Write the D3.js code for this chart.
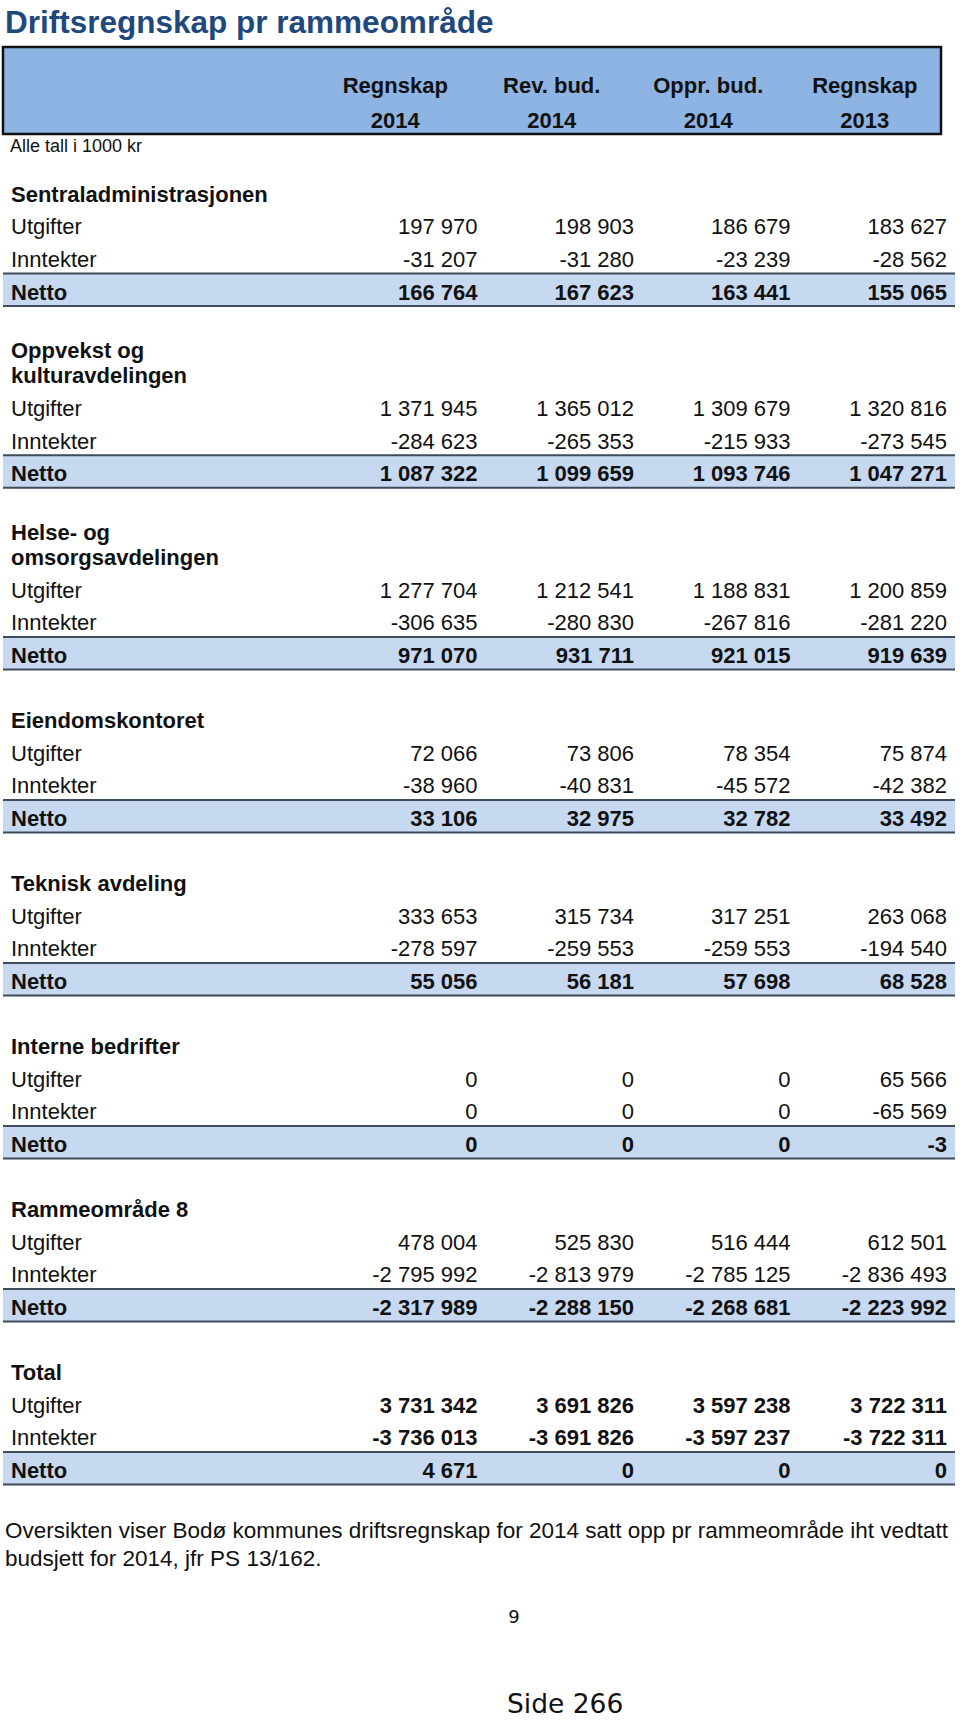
<!DOCTYPE html>
<html>
<head>
<meta charset="utf-8">
<script src="https://cdn.jsdelivr.net/npm/d3@7"></script>
<style>
  html, body { margin: 0; padding: 0; background: #ffffff; }
  svg { display: block; }
</style>
</head>
<body>
<div id="chart"></div>
<script>
// ---------- data ----------
const title = "Driftsregnskap pr rammeområde";
const unitNote = "Alle tall i 1000 kr";
const colHeadersTop = ["Regnskap", "Rev. bud.", "Oppr. bud.", "Regnskap"];
const colHeadersYear = ["2014", "2014", "2014", "2013"];
const rowLabels = ["Utgifter", "Inntekter", "Netto"];
const sectionNames = [
  ["Sentraladministrasjonen"],
  ["Oppvekst og", "kulturavdelingen"],
  ["Helse- og", "omsorgsavdelingen"],
  ["Eiendomskontoret"],
  ["Teknisk avdeling"],
  ["Interne bedrifter"],
  ["Rammeområde 8"],
  ["Total"]
];
const utgifter = [
  [197970, 198903, 186679, 183627],
  [1371945, 1365012, 1309679, 1320816],
  [1277704, 1212541, 1188831, 1200859],
  [72066, 73806, 78354, 75874],
  [333653, 315734, 317251, 263068],
  [0, 0, 0, 65566],
  [478004, 525830, 516444, 612501],
  [3731342, 3691826, 3597238, 3722311]
];
const inntekter = [
  [-31207, -31280, -23239, -28562],
  [-284623, -265353, -215933, -273545],
  [-306635, -280830, -267816, -281220],
  [-38960, -40831, -45572, -42382],
  [-278597, -259553, -259553, -194540],
  [0, 0, 0, -65569],
  [-2795992, -2813979, -2785125, -2836493],
  [-3736013, -3691826, -3597237, -3722311]
];
const netto = [
  [166764, 167623, 163441, 155065],
  [1087322, 1099659, 1093746, 1047271],
  [971070, 931711, 921015, 919639],
  [33106, 32975, 32782, 33492],
  [55056, 56181, 57698, 68528],
  [0, 0, 0, -3],
  [-2317989, -2288150, -2268681, -2223992],
  [4671, 0, 0, 0]
];
const footerLines = [
  "Oversikten viser Bodø kommunes driftsregnskap for 2014 satt opp pr rammeområde iht vedtatt",
  "budsjett for 2014, jfr PS 13/162."
];
const pageNumber = "9";
const sideLabel = "Side 266";

// ---------- layout ----------
const W = 960, H = 1720;
const FONT = "'Liberation Sans', Arial, sans-serif";
const ROW_H = 32.6, TWO_LINE_H = 51.3, FIRST_ROW_TOP = 175.7;

const locale = d3.formatLocale({decimal: ",", thousands: " ", grouping: [3], currency: ["", ""], minus: "-"});
const fmt = locale.format(",d");

const svg = d3.select("#chart").append("svg")
  .attr("width", W).attr("height", H)
  .attr("viewBox", `0 0 ${W} ${H}`);

const x = d3.scaleBand().domain(d3.range(colHeadersTop.length)).range([329, 955]).padding(0);

// title
svg.append("text")
  .attr("x", 5).attr("y", 33)
  .attr("font-family", FONT).attr("font-weight", "bold")
  .attr("font-size", 31.5).attr("fill", "#1F497D")
  .text(title);

// header box
svg.append("rect")
  .attr("x", 3).attr("y", 47).attr("width", 938).attr("height", 87)
  .attr("fill", "#8DB4E2").attr("stroke", "#111111").attr("stroke-width", 2.5);

const hdr = svg.append("g").attr("font-family", FONT).attr("font-weight", "bold")
  .attr("font-size", 22).attr("fill", "#111111").attr("text-anchor", "middle");
hdr.selectAll("text.top").data(colHeadersTop).join("text")
  .attr("class", "top")
  .attr("x", (d, i) => x(i) + x.bandwidth() / 2 - 12).attr("y", 93)
  .text(d => d);
hdr.selectAll("text.yr").data(colHeadersYear).join("text")
  .attr("class", "yr")
  .attr("x", (d, i) => x(i) + x.bandwidth() / 2 - 12).attr("y", 127.5)
  .text(d => d);

svg.append("text")
  .attr("x", 10).attr("y", 152)
  .attr("font-family", FONT).attr("font-size", 18).attr("fill", "#111111")
  .text(unitNote);

// build rows
const rows = [];
let yTop = FIRST_ROW_TOP;
sectionNames.forEach((lines, s) => {
  const hh = lines.length > 1 ? TWO_LINE_H : ROW_H;
  rows.push({type: "section", top: yTop, h: hh, lines});
  yTop += hh;
  const series = [utgifter[s], inntekter[s], netto[s]];
  const isTotal = s === sectionNames.length - 1;
  series.forEach((vals, r) => {
    rows.push({type: r === 2 ? "netto" : "row", top: yTop, h: ROW_H, label: rowLabels[r], vals, boldVals: r === 2 || isTotal});
    yTop += ROW_H;
  });
  yTop += ROW_H; // blank spacer row
});

const body = svg.append("g").attr("font-family", FONT).attr("fill", "#111111");

// Netto bands
const nettoRows = rows.filter(r => r.type === "netto");
body.selectAll("rect.band").data(nettoRows).join("rect")
  .attr("class", "band")
  .attr("x", 3).attr("y", d => d.top).attr("width", 952).attr("height", d => d.h)
  .attr("fill", "#C6D9F1");
body.selectAll("line.bt").data(nettoRows).join("line")
  .attr("class", "bt")
  .attr("x1", 3).attr("x2", 955).attr("y1", d => d.top).attr("y2", d => d.top)
  .attr("stroke", "#3E4B5B").attr("stroke-width", 2);
body.selectAll("line.bb").data(nettoRows).join("line")
  .attr("class", "bb")
  .attr("x1", 3).attr("x2", 955).attr("y1", d => d.top + d.h).attr("y2", d => d.top + d.h)
  .attr("stroke", "#3E4B5B").attr("stroke-width", 2);

// section headers
const secRows = rows.filter(r => r.type === "section");
secRows.forEach(r => {
  const n = r.lines.length;
  r.lines.forEach((ln, k) => {
    const base = n > 1 ? r.top + r.h - 7 - (n - 1 - k) * 25 : r.top + 26;
    body.append("text")
      .attr("x", 11).attr("y", base)
      .attr("font-size", 22).attr("font-weight", "bold")
      .text(ln);
  });
});

// data rows
const dataRows = rows.filter(r => r.type !== "section");
const rg = body.selectAll("g.row").data(dataRows).join("g").attr("class", "row")
  .attr("transform", d => `translate(0,${d.top + 26})`);
rg.append("text")
  .attr("x", 11).attr("y", 0).attr("font-size", 22)
  .attr("font-weight", d => d.type === "netto" ? "bold" : "normal")
  .text(d => d.label);
rg.selectAll("text.v").data(d => d.vals.map(v => ({v, bold: d.boldVals}))).join("text")
  .attr("class", "v")
  .attr("x", (d, i) => x(i) + x.bandwidth() - 8).attr("y", 0)
  .attr("text-anchor", "end").attr("font-size", 22)
  .attr("font-weight", d => d.bold ? "bold" : "normal")
  .text(d => fmt(d.v));

// footer
svg.append("g").selectAll("text").data(footerLines).join("text")
  .attr("x", 5).attr("y", (d, i) => 1538 + i * 28)
  .attr("font-family", FONT).attr("font-size", 22.5).attr("fill", "#111111")
  .text(d => d);

svg.append("text")
  .attr("x", 514).attr("y", 1623).attr("text-anchor", "middle")
  .attr("font-family", "'DejaVu Sans', sans-serif").attr("font-size", 18).attr("fill", "#111111")
  .text(pageNumber);
svg.append("text")
  .attr("x", 507).attr("y", 1713)
  .attr("font-family", "'DejaVu Sans', sans-serif").attr("font-size", 26.5).attr("fill", "#111111")
  .text(sideLabel);
</script>
</body>
</html>
